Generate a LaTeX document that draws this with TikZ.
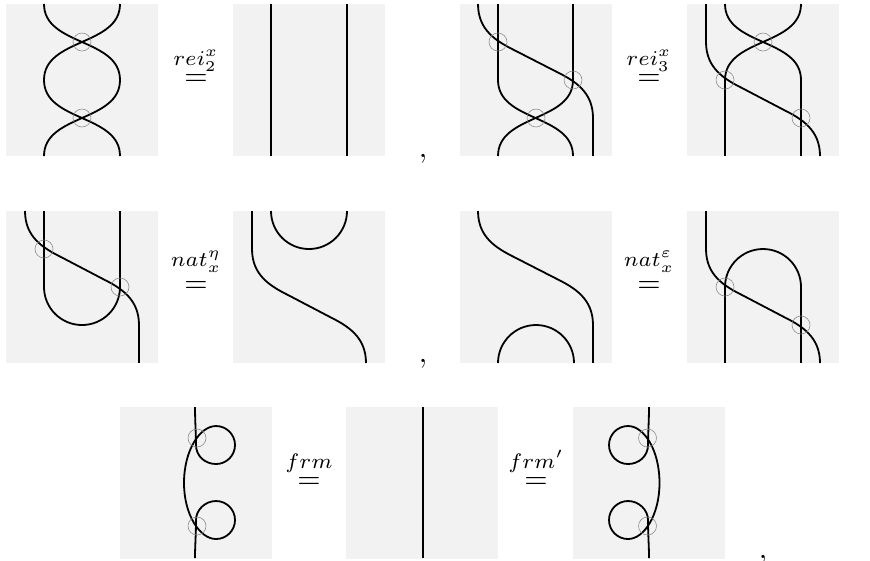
\documentclass[tikz,border=0pt]{standalone}
\newcommand{\eqlabel}[2]{$\stackrel{\raisebox{#1}{$\scriptstyle #2$}}{=}$}
\tikzset{
  tile/.style={fill=black!5,draw=none},
  strand/.style={line width=0.6pt},
  marker/.style={draw=black!45,line width=0.2pt},
  eqnode/.style={anchor=base,inner sep=0pt},
}
\begin{document}
\begin{tikzpicture}[x=0.33333pt,y=-0.33333pt]
\useasboundingbox (0,0) rectangle (870,560);

\foreach \x/\y in {6/4,233/4,460/4,687/4,6/211,233/211,460/211,687/211,120/407,346/407,573/407}
{
\fill[tile] (\x,\y) rectangle ++(152,152);
}

% short crossings
\foreach \a/\b/\c/\d in {44/4/120/80,120/4/44/80,44/80/120/156,120/80/44/156,
  498/80/573/156,573/80/498/156,725/4/801/80,801/4/725/80}
{
\draw[strand] (\a,\b) .. controls (\a,\b+42) and (\c,\d-42) .. (\c,\d);
}

% long crossings
\foreach \a/\b/\e in {478/4/115,706/42/114,25/211/114,252/249/114,478/211/115,706/249/114}
{
\draw[strand] (\a,\b) .. controls (\a,\b+26) and (\a+18,\b+37) .. (\a+36,\b+46) -- (\a+\e-36,\b+68)
  .. controls (\a+\e-18,\b+77) and (\a+\e,\b+88) .. (\a+\e,\b+114);
}

% straight strands
\foreach \a/\b/\d in {271/4/156,347/4/156,498/4/80,573/4/80,593/118/156,706/4/42,725/80/156,801/80/156,
  44/211/287,120/211/287,139/325/363,252/211/249,593/325/363,706/211/249,725/287/363,801/287/363,423/407/558}
{
\draw[strand] (\a,\b) -- (\a,\d);
}

% cups and caps
\draw[strand] (44,287) arc[start angle=180,end angle=0,radius=38];
\draw[strand] (271,211) arc[start angle=180,end angle=0,radius=38];
\draw[strand] (498,363) arc[start angle=180,end angle=360,radius=38];
\draw[strand] (725,287) arc[start angle=180,end angle=360,radius=38];

% framing loops
\draw[strand] (195,407) .. controls (195,420) and (196,435) .. (196,445)
  .. controls (196,456) and (205,464) .. (216,464)
  .. controls (226.5,464) and (235,455.5) .. (235,445) .. controls (235,434.5) and (226.5,426) .. (216,426)
  .. controls (200,426) and (184,450) .. (184,483) .. controls (184,515) and (200,539) .. (216,539)
  .. controls (226.5,539) and (235,530.5) .. (235,520) .. controls (235,509.5) and (226.5,501) .. (216,501)
  .. controls (205,501) and (196,510) .. (196,520) .. controls (196,535) and (195,545) .. (195,558);
\draw[strand] (649,407) .. controls (649,420) and (648,435) .. (648,445)
  .. controls (648,456) and (639,464) .. (628,464)
  .. controls (617.5,464) and (609,455.5) .. (609,445) .. controls (609,434.5) and (617.5,426) .. (628,426)
  .. controls (644,426) and (659.5,450) .. (659.5,483) .. controls (659.5,515) and (644,539) .. (628,539)
  .. controls (617.5,539) and (609,530.5) .. (609,520) .. controls (609,509.5) and (617.5,501) .. (628,501)
  .. controls (639,501) and (648,510) .. (648,520) .. controls (648,535) and (649,545) .. (649,558);

\foreach \x/\y in {82/42,82/118,498/42,573/80,536/118,763/42,725/80,801/118,
  44/249,120/287,725/287,801/325,197/438,197/526,647.5/438,647.5/526}
{
\draw[marker] (\x,\y) circle (9);
}

\node[eqnode] (reitwo) at (196,85.5) {\eqlabel{1pt}{rei_2^x}};
\node[eqnode] (reithree) at (649,85.5) {\eqlabel{1pt}{rei_3^x}};
\node[eqnode] (nateta) at (196,292.5) {\eqlabel{3pt}{nat_x^\eta}};
\node[eqnode] (natepsilon) at (649,292.5) {\eqlabel{3pt}{nat_x^\varepsilon}};
\node[eqnode] (frmleft) at (309,488) {\eqlabel{1pt}{frm}};
\node[eqnode] (frmright) at (536,488) {\eqlabel{1pt}{frm'}};

\node[eqnode] (commaone) at (423,157) {$,$};
\node[eqnode] (commatwo) at (423,362) {$,$};
\node[eqnode] (commathree) at (763,558) {$,$};
\end{tikzpicture}
\end{document}
